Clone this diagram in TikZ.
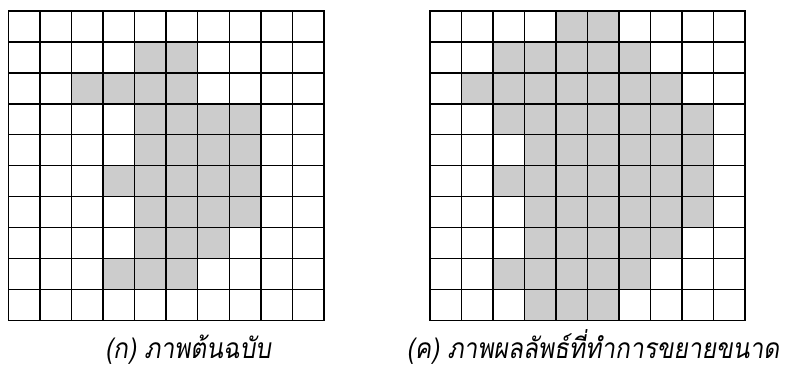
\documentclass[tikz,border=0pt]{standalone}
\usepackage{fontspec}
\newfontfamily\thaifont[Script=Thai,FakeSlant=0.18]{Loma}
\definecolor{cellgray}{RGB}{204,204,204}
\tikzset{
  gridline/.style={line width=1.35pt, black, line cap=rect},
  shade/.style={fill=cellgray},
  caption/.style={font=\thaifont\fontsize{24.5}{28}\selectfont, inner sep=0pt, anchor=base, yscale=1.15, transform shape}
}
\begin{document}
\begin{tikzpicture}[x=1pt,y=-1pt]
\useasboundingbox (0,0) rectangle (785,374);
% left grid: origin (8.3,11), cell 31.57 x 30.95
\begin{scope}[shift={(8.3,11)}, x=31.57pt, y=-30.95pt]
  \foreach \r/\a/\b in {1/4/5, 2/2/5, 3/4/7, 4/4/7, 5/3/7, 6/4/7, 7/4/6, 8/3/5}
    \fill[shade] (\a,\r) rectangle (\b+1,\r+1);
  \foreach \i in {0,...,10} {
    \draw[gridline] (\i,0) -- (\i,10);
    \draw[gridline] (0,\i) -- (10,\i);
  }
\end{scope}
% right grid: origin (430,11)
\begin{scope}[shift={(430,11)}, x=31.5pt, y=-30.95pt]
  \foreach \r/\a/\b in {0/4/5, 1/2/6, 2/1/7, 3/2/8, 4/3/8, 5/2/8, 6/3/8, 7/3/7, 8/2/6, 9/3/5}
    \fill[shade] (\a,\r) rectangle (\b+1,\r+1);
  \foreach \i in {0,...,10} {
    \draw[gridline] (\i,0) -- (\i,10);
    \draw[gridline] (0,\i) -- (10,\i);
  }
\end{scope}
\node[caption] (capA) at (188,359) {(ก) ภาพต้นฉบับ};
\node[caption] (capC) at (593,359) {(ค) ภาพผลลัพธ์ที่ทำการขยายขนาด};
\end{tikzpicture}
\end{document}
